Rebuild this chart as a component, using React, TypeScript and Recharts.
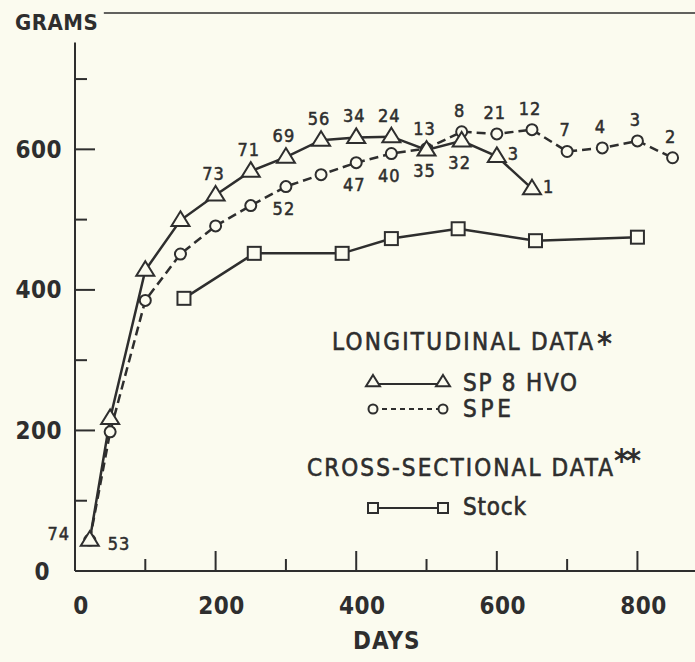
import React from "react"
import { LineChart, Line, XAxis, YAxis, ReferenceLine, LabelList, Legend } from "recharts"

// Longitudinal data, SP 8 HVO (triangles)
const hvoDays = [21, 50, 100, 150, 200, 250, 300, 350, 400, 450, 500, 550, 600, 650]
const hvoGrams = [44, 217, 428, 499, 535, 569, 589, 613, 617, 618, 599, 612, 590, 544]
const hvoCounts = ["74", "", "", "", "73", "71", "69", "56", "34", "24", "13", "32", "3", "1"]

// Longitudinal data, SPE (circles)
const speDays = [21, 50, 100, 150, 200, 250, 300, 350, 400, 450, 500, 550, 600, 650, 700, 750, 800, 850]
const speGrams = [44, 198, 385, 451, 491, 520, 547, 564, 581, 594, 601, 625, 622, 628, 597, 602, 612, 588]
const speCounts = ["53", "", "", "", "", "", "52", "", "47", "40", "35", "8", "21", "12", "7", "4", "3", "2"]

// Cross-sectional data, Stock (squares)
const stockDays = [155, 255, 380, 450, 545, 655, 800]
const stockGrams = [388, 452, 452, 473, 487, 470, 475]

const xTicks = [0, 100, 200, 300, 400, 500, 600, 700, 800]
const yTicks = [0, 100, 200, 300, 400, 500, 600, 700]

const ink = "#2e2e2e"
const paper = "#fbfbef"
const font = "'DejaVu Sans Condensed', 'Liberation Sans Narrow', sans-serif"

const hvoData = hvoDays.map((day, i) => ({ day, grams: hvoGrams[i], n: hvoCounts[i] }))
const speData = speDays.map((day, i) => ({ day, grams: speGrams[i], n: speCounts[i] }))
const stockData = stockDays.map((day, i) => ({ day, grams: stockGrams[i] }))

// where each sample-size label sits relative to its point
const hvoPlace: Record<number, string> = { 0: "left", 11: "bottom", 12: "right", 13: "right" }
const spePlace: Record<number, string> = { 0: "right", 6: "bottom", 8: "bottom", 9: "bottom", 10: "bottom" }

const W = 700
const H = 662
const plotLeft = 75
const plotRight = 698.6
const plotBottom = 571

const Triangle = ({ cx, cy, size = 9 }: any) => (
  <path
    d={`M${cx},${cy - size} L${cx + size},${cy + size * 0.62} L${cx - size},${cy + size * 0.62} Z`}
    fill={paper}
    stroke={ink}
    strokeWidth={2}
  />
)

const Circle = ({ cx, cy, r = 5.5 }: any) => (
  <circle cx={cx} cy={cy} r={r} fill={paper} stroke={ink} strokeWidth={2} />
)

const Square = ({ cx, cy, s = 6.5 }: any) => (
  <rect x={cx - s} y={cy - s} width={s * 2} height={s * 2} fill={paper} stroke={ink} strokeWidth={2} />
)

const makeLabel = (place: Record<number, string>, def: string) => (p: any) => {
  const { x, y, value, index } = p
  if (!value) return null
  const where = place[index] || def
  let tx = x - 2
  let ty = y - 22
  let anchor: "start" | "middle" | "end" = "middle"
  if (where === "bottom") ty = y + 21
  if (where === "right") {
    tx = x + 11
    ty = y - 3
    anchor = "start"
  }
  if (where === "left") {
    tx = x - 31
    ty = y - 7
  }
  if (index === 0 && where === "right") {
    tx = x + 18
    ty = y + 3
  }
  return (
    <text
      x={tx}
      y={ty + 7}
      textAnchor={anchor}
      fontFamily={font}
      fontSize={18}
      fill={ink}
      stroke={ink}
      strokeWidth={0.5}
      letterSpacing={1}
    >
      {value}
    </text>
  )
}

const axisText = { fontFamily: font, fontSize: 24, fontWeight: "bold" as const, fill: ink }

const LeftTick = ({ y, payload }: any) => {
  const v = payload.value
  const major = v % 200 === 0
  return (
    <g>
      {v !== 0 && (
        <line x1={plotLeft} x2={plotLeft + (major ? 20 : 12)} y1={y} y2={y} stroke={ink} strokeWidth={2} />
      )}
      {major && (
        <text x={v === 0 ? 50 : 62} y={y + 8.5} textAnchor="end" letterSpacing={0.5} {...axisText}>
          {v}
        </text>
      )}
    </g>
  )
}

const RightTick = ({ y, payload }: any) => {
  const v = payload.value
  if (v === 0) return null
  const major = v % 200 === 0
  return <line x1={plotRight} x2={plotRight - (major ? 18 : 10)} y1={y} y2={y} stroke={ink} strokeWidth={2} />
}

const BottomTick = ({ x, payload }: any) => {
  const v = payload.value
  const major = v % 200 === 0
  return (
    <g>
      {v !== 0 && (
        <line x1={x} x2={x} y1={plotBottom} y2={plotBottom - (major ? 20 : 12)} stroke={ink} strokeWidth={2} />
      )}
      {major && (
        <text x={x + 6} y={614} textAnchor="middle" letterSpacing={0.5} {...axisText}>
          {v}
        </text>
      )}
    </g>
  )
}

const legendText = { fontFamily: font, fontSize: 24, fill: ink, stroke: ink, strokeWidth: 0.6 }

const LegendBox = () => {
  // local coordinates: wrapper sits at left 290, top 320
  const ox = 290
  const oy = 320
  const row = (y: number) => y - oy
  const sx1 = 373 - ox
  const sx2 = 443 - ox
  const tx = 463 - ox
  return (
    <svg width={380} height={210} style={{ overflow: "visible" }}>
      <text x={332 - ox} y={row(341) + 9} textLength={261} lengthAdjust="spacing" {...legendText}>
        LONGITUDINAL DATA
      </text>
      <text x={597 - ox} y={row(341) + 13} fontFamily={font} fontSize={32} fontWeight="bold" fill={ink}>
        *
      </text>

      <line x1={sx1} x2={sx2} y1={row(384)} y2={row(384)} stroke={ink} strokeWidth={2} />
      <Triangle cx={sx1} cy={row(382)} size={7} />
      <Triangle cx={sx2} cy={row(382)} size={7} />
      <text x={tx} y={row(382) + 9} textLength={114} lengthAdjust="spacing" {...legendText}>
        SP 8 HVO
      </text>

      <line x1={sx1} x2={sx2} y1={row(409)} y2={row(409)} stroke={ink} strokeWidth={2} strokeDasharray="5 4" />
      <Circle cx={sx1} cy={row(409)} r={4.5} />
      <Circle cx={sx2} cy={row(409)} r={4.5} />
      <text x={tx} y={row(408) + 9} textLength={48} lengthAdjust="spacing" {...legendText}>
        SPE
      </text>

      <text x={307 - ox} y={row(467) + 9} textLength={306} lengthAdjust="spacing" {...legendText}>
        CROSS-SECTIONAL DATA
      </text>
      <text
        x={614 - ox}
        y={row(458) + 13}
        fontFamily={font}
        fontSize={32}
        fontWeight="bold"
        fill={ink}
        letterSpacing={-3}
      >
        **
      </text>

      <line x1={sx1} x2={sx2} y1={row(508)} y2={row(508)} stroke={ink} strokeWidth={2} />
      <Square cx={sx1} cy={row(508)} s={5} />
      <Square cx={sx2} cy={row(508)} s={5} />
      <text x={tx} y={row(506) + 9} textLength={63} lengthAdjust="spacing" {...legendText}>
        Stock
      </text>
    </svg>
  )
}

export default function App() {
  return (
    <div style={{ width: 695, height: 662, overflow: "hidden", background: paper, position: "relative" }}>
      <style>{`body{margin:0;background:${paper}}`}</style>
      <LineChart width={W} height={H} margin={{ top: 13, right: 0, bottom: 0, left: 0 }}>
        <XAxis
          type="number"
          dataKey="day"
          domain={[0, 887]}
          ticks={xTicks}
          tick={<BottomTick />}
          tickLine={false}
          tickSize={0}
          height={91}
          axisLine={{ stroke: ink, strokeWidth: 2 }}
          allowDuplicatedCategory={false}
          label={{
            value: "DAYS",
            position: "insideBottom",
            offset: 13,
            fontFamily: font,
            fontSize: 24,
            fontWeight: "bold",
            fill: ink,
            letterSpacing: 1,
          }}
        />
        <YAxis
          type="number"
          domain={[0, 794]}
          ticks={yTicks}
          width={75}
          tick={<LeftTick />}
          tickLine={false}
          tickSize={0}
          axisLine={false}
          label={{
            content: () => (
              <text x={15} y={30} letterSpacing={0.5} {...axisText} fontSize={22}>
                GRAMS
              </text>
            ),
          }}
        />
        <YAxis
          yAxisId="r"
          orientation="right"
          type="number"
          domain={[0, 794]}
          ticks={yTicks}
          width={1.4}
          tick={<RightTick />}
          tickLine={false}
          tickSize={0}
          axisLine={false}
        />
        <ReferenceLine
          segment={[
            { x: 0, y: 0 },
            { x: 0, y: 752 },
          ]}
          stroke={ink}
          strokeWidth={2}
          ifOverflow="visible"
        />
        <ReferenceLine
          segment={[
            { x: 41, y: 794 },
            { x: 887, y: 794 },
          ]}
          stroke={ink}
          strokeWidth={1.5}
          ifOverflow="visible"
        />
        <Legend
          layout="vertical"
          align="center"
          verticalAlign="middle"
          content={<LegendBox />}
          wrapperStyle={{ left: 290, top: 320, width: 380, height: 210 }}
        />
        <Line
          data={speData}
          dataKey="grams"
          name="SPE"
          stroke={ink}
          strokeWidth={2.5}
          strokeDasharray="9 5"
          isAnimationActive={false}
          dot={(p: any) => <Circle key={`spe-${p.index}`} cx={p.cx} cy={p.cy} />}
          activeDot={false}
        >
          <LabelList dataKey="n" content={makeLabel(spePlace, "top")} />
        </Line>
        <Line
          data={hvoData}
          dataKey="grams"
          name="SP 8 HVO"
          stroke={ink}
          strokeWidth={2.5}
          isAnimationActive={false}
          dot={(p: any) => <Triangle key={`hvo-${p.index}`} cx={p.cx} cy={p.cy} />}
          activeDot={false}
        >
          <LabelList dataKey="n" content={makeLabel(hvoPlace, "top")} />
        </Line>
        <Line
          data={stockData}
          dataKey="grams"
          name="Stock"
          stroke={ink}
          strokeWidth={2.5}
          isAnimationActive={false}
          dot={(p: any) => <Square key={`stock-${p.index}`} cx={p.cx} cy={p.cy} />}
          activeDot={false}
        />
      </LineChart>
    </div>
  )
}
